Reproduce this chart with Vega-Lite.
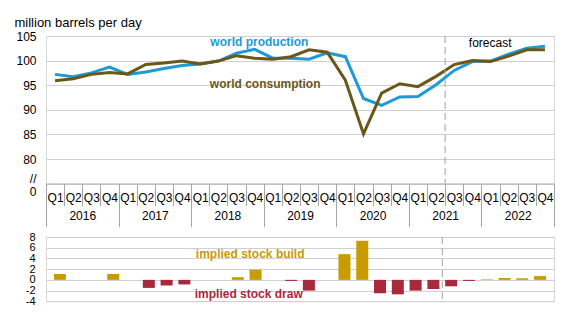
{
  "$schema": "https://vega.github.io/schema/vega-lite/v6.json",
  "padding": {"left": 13, "top": 16, "right": 5, "bottom": 5},
  "background": "white",
  "config": {
    "view": {"stroke": "#d9d9d9"},
    "font": "Liberation Sans",
    "axis": {"labelFont": "Liberation Sans", "titleFont": "Liberation Sans", "labelColor": "#000000", "labelOverlap": false},
    "axisY": {"labelOverlap": false},
    "axisQuantitative": {"labelOverlap": false},
    "text": {"font": "Liberation Sans"}
  },
  "datasets": {
    "quarters": [
      {"t": 2016.125, "world production": 97.2, "world consumption": 95.9},
      {"t": 2016.375, "world production": 96.7, "world consumption": 96.3},
      {"t": 2016.625, "world production": 97.5, "world consumption": 97.2},
      {"t": 2016.875, "world production": 98.7, "world consumption": 97.6},
      {"t": 2017.125, "world production": 97.2, "world consumption": 97.3},
      {"t": 2017.375, "world production": 97.7, "world consumption": 99.2},
      {"t": 2017.625, "world production": 98.4, "world consumption": 99.5},
      {"t": 2017.875, "world production": 99.0, "world consumption": 99.9},
      {"t": 2018.125, "world production": 99.3, "world consumption": 99.3},
      {"t": 2018.375, "world production": 99.9, "world consumption": 99.9},
      {"t": 2018.625, "world production": 101.5, "world consumption": 101.0},
      {"t": 2018.875, "world production": 102.3, "world consumption": 100.5},
      {"t": 2019.125, "world production": 100.5, "world consumption": 100.3},
      {"t": 2019.375, "world production": 100.5, "world consumption": 100.8},
      {"t": 2019.625, "world production": 100.3, "world consumption": 102.2},
      {"t": 2019.875, "world production": 101.6, "world consumption": 101.7},
      {"t": 2020.125, "world production": 100.8, "world consumption": 96.0},
      {"t": 2020.375, "world production": 92.3, "world consumption": 85.1},
      {"t": 2020.625, "world production": 90.9, "world consumption": 93.4},
      {"t": 2020.875, "world production": 92.6, "world consumption": 95.3},
      {"t": 2021.125, "world production": 92.7, "world consumption": 94.7},
      {"t": 2021.375, "world production": 95.1, "world consumption": 96.8},
      {"t": 2021.625, "world production": 98.0, "world consumption": 99.2},
      {"t": 2021.875, "world production": 99.8, "world consumption": 100.0},
      {"t": 2022.125, "world production": 99.9, "world consumption": 99.8},
      {"t": 2022.375, "world production": 101.3, "world consumption": 100.9},
      {"t": 2022.625, "world production": 102.5, "world consumption": 102.2},
      {"t": 2022.875, "world production": 102.9, "world consumption": 102.2}
    ],
    "bars": [
      {"t": 2016.125, "value": 1.1},
      {"t": 2016.375, "value": 0},
      {"t": 2016.625, "value": 0},
      {"t": 2016.875, "value": 1.1},
      {"t": 2017.125, "value": 0},
      {"t": 2017.375, "value": -1.5},
      {"t": 2017.625, "value": -1.05},
      {"t": 2017.875, "value": -0.85},
      {"t": 2018.125, "value": 0},
      {"t": 2018.375, "value": 0},
      {"t": 2018.625, "value": 0.5},
      {"t": 2018.875, "value": 1.9},
      {"t": 2019.125, "value": 0},
      {"t": 2019.375, "value": -0.2},
      {"t": 2019.625, "value": -2.0},
      {"t": 2019.875, "value": 0},
      {"t": 2020.125, "value": 4.8},
      {"t": 2020.375, "value": 7.3},
      {"t": 2020.625, "value": -2.5},
      {"t": 2020.875, "value": -2.7},
      {"t": 2021.125, "value": -2.0},
      {"t": 2021.375, "value": -1.7},
      {"t": 2021.625, "value": -1.2},
      {"t": 2021.875, "value": -0.2},
      {"t": 2022.125, "value": 0.1},
      {"t": 2022.375, "value": 0.35},
      {"t": 2022.625, "value": 0.3},
      {"t": 2022.875, "value": 0.7}
    ]
  },
  "vconcat": [
    {
      "width": 508,
      "height": 147.6,
      "layer": [
        {
          "data": {"name": "quarters"},
          "transform": [{"fold": ["world production", "world consumption"], "as": ["series", "value"]}],
          "mark": {"type": "line", "strokeWidth": 3},
          "encoding": {
            "x": {
              "field": "t", "type": "quantitative",
              "scale": {"domain": [2016, 2023], "nice": false, "zero": false},
              "axis": {
                "orient": "bottom", "title": null, "grid": false, "ticks": false,
                "domain": true, "domainColor": "#a6a6a6", "domainWidth": 1,
                "values": [2016.125, 2016.375, 2016.625, 2016.875, 2017.125, 2017.375, 2017.625, 2017.875, 2018.125, 2018.375, 2018.625, 2018.875, 2019.125, 2019.375, 2019.625, 2019.875, 2020.125, 2020.375, 2020.625, 2020.875, 2021.125, 2021.375, 2021.625, 2021.875, 2022.125, 2022.375, 2022.625, 2022.875],
                "labelExpr": "'Q' + (floor((datum.value % 1) * 4) + 1)",
                "labelPadding": 9, "labelFontSize": 12, "labelOverlap": false, "labelFlush": false, "labelBound": false
              }
            },
            "y": {
              "field": "value", "type": "quantitative",
              "scale": {"domain": [75, 105], "nice": false, "zero": false},
              "axis": {
                "values": [75, 76, 80, 85, 90, 95, 100, 105],
                "labelExpr": "datum.value == 75 ? '0' : datum.value == 76 ? '//' : datum.label",
                "labelOffset": {"condition": {"test": "datum.value == 75", "value": 8}, "value": 0},
                "gridOpacity": {"condition": {"test": "datum.value < 80", "value": 0}, "value": 1},
                "grid": true, "gridColor": "#d0d0d0", "ticks": false, "domain": false,
                "labelPadding": 10, "labelFontSize": 12, "labelOverlap": false, "labelBound": false, "labelFlush": false,
                "title": "million barrels per day", "titleAngle": 0, "titleAlign": "left", "titleBaseline": "alphabetic",
                "titleX": -32, "titleY": -9.5, "titleFontSize": 13, "titleFontWeight": "normal", "titleColor": "#000000"
              }
            },
            "color": {
              "field": "series", "type": "nominal",
              "scale": {"domain": ["world production", "world consumption"], "range": ["#1e9ad6", "#6b5819"]},
              "legend": null
            }
          }
        },
        {
          "data": {"values": [{"t": 2021.5}]},
          "mark": {"type": "rule", "color": "#a0a0a0", "strokeWidth": 1, "strokeDash": [7, 4]},
          "encoding": {
            "x": {
              "field": "t", "type": "quantitative",
              "scale": {"domain": [2016, 2023], "nice": false, "zero": false},
              "axis": {
                "orient": "bottom", "title": null, "grid": false, "ticks": false, "domain": false,
                "values": [2016.5, 2017.5, 2018.5, 2019.5, 2020.5, 2021.5, 2022.5],
                "labelExpr": "'' + floor(datum.value)",
                "labelPadding": 27, "labelFontSize": 12, "labelOverlap": false, "labelFlush": false, "labelBound": false
              }
            }
          }
        },
        {
          "data": {"values": [
            {"t": 2018.94, "value": 103.8, "series": "world production"},
            {"t": 2019.02, "value": 95.2, "series": "world consumption"}
          ]},
          "mark": {"type": "text", "fontWeight": "bold", "fontSize": 12},
          "encoding": {
            "x": {
              "field": "t", "type": "quantitative",
              "scale": {"domain": [2016, 2023], "nice": false, "zero": false},
              "axis": {
                "orient": "bottom", "title": null, "grid": false, "labels": false, "domain": false,
                "ticks": true, "tickColor": "#a6a6a6", "tickWidth": 1,
                "tickSize": {"condition": {"test": "datum.value % 1 == 0", "value": 43}, "value": 22},
                "values": [2016, 2016.25, 2016.5, 2016.75, 2017, 2017.25, 2017.5, 2017.75, 2018, 2018.25, 2018.5, 2018.75, 2019, 2019.25, 2019.5, 2019.75, 2020, 2020.25, 2020.5, 2020.75, 2021, 2021.25, 2021.5, 2021.75, 2022, 2022.25, 2022.5, 2022.75, 2023]
              }
            },
            "y": {
              "field": "value", "type": "quantitative",
              "scale": {"domain": [75, 105], "nice": false, "zero": false},
              "axis": {
                "values": [75, 76, 80, 85, 90, 95, 100, 105],
                "labelExpr": "datum.value == 75 ? '0' : datum.value == 76 ? '//' : datum.label",
                "labelOffset": {"condition": {"test": "datum.value == 75", "value": 8}, "value": 0},
                "gridOpacity": {"condition": {"test": "datum.value < 80", "value": 0}, "value": 1},
                "grid": true, "gridColor": "#d0d0d0", "ticks": false, "domain": false,
                "labelPadding": 10, "labelFontSize": 12, "labelOverlap": false, "labelBound": false, "labelFlush": false,
                "title": "million barrels per day", "titleAngle": 0, "titleAlign": "left", "titleBaseline": "alphabetic",
                "titleX": -32, "titleY": -9.5, "titleFontSize": 13, "titleFontWeight": "normal", "titleColor": "#000000"
              }
            },
            "text": {"field": "series"},
            "color": {"field": "series", "type": "nominal", "legend": null}
          }
        },
        {
          "data": {"values": [{"t": 2022.12, "value": 103.6, "label": "forecast"}]},
          "mark": {"type": "text", "fontSize": 12, "color": "#000000"},
          "encoding": {
            "x": {"field": "t", "type": "quantitative", "scale": {"domain": [2016, 2023], "nice": false, "zero": false}, "axis": null},
            "y": {
              "field": "value", "type": "quantitative",
              "scale": {"domain": [75, 105], "nice": false, "zero": false},
              "axis": {
                "values": [75, 76, 80, 85, 90, 95, 100, 105],
                "labelExpr": "datum.value == 75 ? '0' : datum.value == 76 ? '//' : datum.label",
                "labelOffset": {"condition": {"test": "datum.value == 75", "value": 8}, "value": 0},
                "gridOpacity": {"condition": {"test": "datum.value < 80", "value": 0}, "value": 1},
                "grid": true, "gridColor": "#d0d0d0", "ticks": false, "domain": false,
                "labelPadding": 10, "labelFontSize": 12, "labelOverlap": false, "labelBound": false, "labelFlush": false,
                "title": "million barrels per day", "titleAngle": 0, "titleAlign": "left", "titleBaseline": "alphabetic",
                "titleX": -32, "titleY": -9.5, "titleFontSize": 13, "titleFontWeight": "normal", "titleColor": "#000000"
              }
            },
            "text": {"field": "label"}
          }
        }
      ],
      "resolve": {"axis": {"x": "independent"}}
    },
    {
      "width": 508,
      "height": 64.3,
      "layer": [
        {
          "data": {"name": "bars"},
          "mark": {"type": "bar", "size": 12},
          "encoding": {
            "x": {"field": "t", "type": "quantitative", "scale": {"domain": [2016, 2023], "nice": false, "zero": false}, "axis": null},
            "y": {
              "field": "value", "type": "quantitative",
              "scale": {"domain": [-4, 8], "nice": false},
              "axis": {
                "values": [-4, -2, 0, 2, 4, 6, 8], "labelExpr": "'' + datum.value",
                "grid": true, "gridColor": "#d0d0d0", "ticks": false, "domain": false,
                "labelPadding": 11, "labelFontSize": 11, "labelOverlap": false, "labelBound": false, "labelFlush": false,
                "title": null
              }
            },
            "color": {"condition": {"test": "datum.value > 0", "value": "#c89b00"}, "value": "#a8283d"}
          }
        },
        {
          "mark": {"type": "rule", "color": "#000000", "strokeWidth": 1.5},
          "encoding": {
            "y": {
              "datum": 0, "type": "quantitative",
              "scale": {"domain": [-4, 8], "nice": false},
              "axis": {
                "values": [-4, -2, 0, 2, 4, 6, 8], "labelExpr": "'' + datum.value",
                "grid": true, "gridColor": "#d0d0d0", "ticks": false, "domain": false,
                "labelPadding": 11, "labelFontSize": 11, "labelOverlap": false, "labelBound": false, "labelFlush": false,
                "title": null
              }
            }
          }
        },
        {
          "data": {"values": [{"t": 2021.5}]},
          "mark": {"type": "rule", "color": "#a0a0a0", "strokeWidth": 1, "strokeDash": [7, 4]},
          "encoding": {"x": {"field": "t", "type": "quantitative", "scale": {"domain": [2016, 2023], "nice": false, "zero": false}, "axis": null}}
        },
        {
          "data": {"values": [
            {"t": 2018.8, "value": 4.8, "label": "implied stock build"},
            {"t": 2018.78, "value": -2.7, "label": "implied stock draw"}
          ]},
          "mark": {"type": "text", "fontWeight": "bold", "fontSize": 12},
          "encoding": {
            "x": {"field": "t", "type": "quantitative", "scale": {"domain": [2016, 2023], "nice": false, "zero": false}, "axis": null},
            "y": {
              "field": "value", "type": "quantitative",
              "scale": {"domain": [-4, 8], "nice": false},
              "axis": {
                "values": [-4, -2, 0, 2, 4, 6, 8], "labelExpr": "'' + datum.value",
                "grid": true, "gridColor": "#d0d0d0", "ticks": false, "domain": false,
                "labelPadding": 11, "labelFontSize": 11, "labelOverlap": false, "labelBound": false, "labelFlush": false,
                "title": null
              }
            },
            "text": {"field": "label"},
            "color": {"condition": {"test": "datum.value > 0", "value": "#c89b00"}, "value": "#a8283d"}
          }
        }
      ]
    }
  ],
  "spacing": 53,
  "bounds": "flush"
}
